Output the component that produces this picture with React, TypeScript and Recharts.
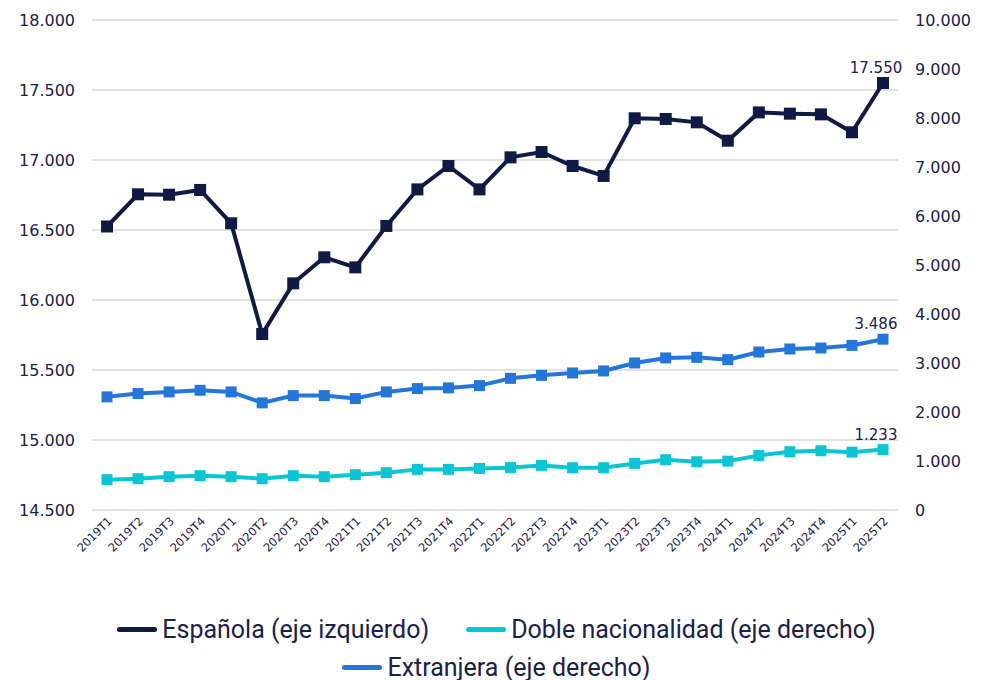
import React from 'react';
import { LineChart, Line, XAxis, YAxis, CartesianGrid, Legend } from 'recharts';

const quarters = [
  '2019T1', '2019T2', '2019T3', '2019T4',
  '2020T1', '2020T2', '2020T3', '2020T4',
  '2021T1', '2021T2', '2021T3', '2021T4',
  '2022T1', '2022T2', '2022T3', '2022T4',
  '2023T1', '2023T2', '2023T3', '2023T4',
  '2024T1', '2024T2', '2024T3', '2024T4',
  '2025T1', '2025T2',
];

const espanola = [
  16525, 16755, 16752, 16786, 16548, 15757, 16119, 16305, 16233, 16529,
  16790, 16957, 16790, 17019, 17057, 16957, 16886, 17298, 17293, 17269,
  17138, 17340, 17331, 17326, 17198, 17550,
];

const extranjera = [
  2309, 2376, 2410, 2443, 2410, 2186, 2335, 2335, 2274, 2410,
  2478, 2492, 2539, 2687, 2748, 2797, 2838, 3001, 3103, 3115,
  3068, 3225, 3286, 3306, 3359, 3486,
];

const doble = [
  619, 639, 680, 700, 680, 639, 700, 680, 721, 761,
  829, 829, 849, 865, 910, 863, 863, 951, 1026, 985,
  998, 1114, 1189, 1209, 1181, 1233,
];

const leftTicks = [14500, 15000, 15500, 16000, 16500, 17000, 17500, 18000];
const rightTicks = [0, 1000, 2000, 3000, 4000, 5000, 6000, 7000, 8000, 9000, 10000];

const data = quarters.map((q, i) => ({
  q,
  espanola: espanola[i],
  extranjera: extranjera[i],
  doble: doble[i],
}));

const NAVY = '#111a44';
const BLUE = '#2477d9';
const CYAN = '#0bc5d4';
const TEXT = '#1b2147';

const fmt = (v: number) => String(v).replace(/\B(?=(\d{3})+(?!\d))/g, '.');

const squareDot = (color: string, size: number) => (props: any) => {
  const { cx, cy, index } = props;
  if (cx == null || cy == null) return <g key={`e-${index}`} />;
  return (
    <rect
      key={`d-${index}`}
      x={cx - size / 2}
      y={cy - size / 2}
      width={size}
      height={size}
      fill={color}
    />
  );
};

const lastLabel = (props: any) => {
  const { x, y, index, value } = props;
  if (index !== quarters.length - 1) return null;
  return (
    <text
      key="last"
      x={x - 7}
      y={y - 10}
      textAnchor="middle"
      fill={TEXT}
      fontSize={15}
      fontFamily="DejaVu Sans"
    >
      {fmt(value)}
    </text>
  );
};

const legendItems = [
  { name: 'Española (eje izquierdo)', color: NAVY },
  { name: 'Doble nacionalidad (eje derecho)', color: CYAN },
  { name: 'Extranjera (eje derecho)', color: BLUE },
];

const LegendRow = ({ items }: { items: typeof legendItems }) => (
  <div style={{ display: 'flex', justifyContent: 'center', gap: 37, height: 38, alignItems: 'center' }}>
    {items.map((it) => (
      <div key={it.name} style={{ display: 'flex', alignItems: 'center' }}>
        <span
          style={{
            display: 'inline-block',
            width: 40,
            height: 5,
            borderRadius: 3,
            background: it.color,
            marginRight: 5,
          }}
        />
        <span style={{ fontFamily: 'Roboto', fontSize: 25, color: TEXT }}>{it.name}</span>
      </div>
    ))}
  </div>
);

const renderLegend = () => (
  <div style={{ width: 993 }}>
    <LegendRow items={legendItems.slice(0, 2)} />
    <LegendRow items={legendItems.slice(2)} />
  </div>
);

export default function App() {
  return (
    <div style={{ position: 'absolute', left: 0, top: 0, background: '#fff' }}>
      <LineChart
        width={993}
        height={680}
        data={data}
        margin={{ top: 20, right: 0, bottom: 0, left: 0 }}
      >
        <CartesianGrid yAxisId="left" vertical={false} stroke="#d9d9d9" strokeWidth={1.5} />
        <XAxis
          dataKey="q"
          interval={0}
          height={94}
          padding={{ left: 15, right: 15 }}
          axisLine={false}
          tickLine={false}
          tickSize={0}
          tickMargin={6}
          angle={-45}
          textAnchor="end"
          tick={{ fill: TEXT, fontSize: 11.5, fontFamily: 'DejaVu Sans' }}
        />
        <YAxis
          yAxisId="left"
          orientation="left"
          width={92}
          domain={[14500, 18000]}
          ticks={leftTicks}
          tickFormatter={fmt}
          axisLine={false}
          tickLine={false}
          tickSize={0}
          tickMargin={17}
          tick={{ fill: TEXT, fontSize: 16, fontFamily: 'DejaVu Sans' }}
        />
        <YAxis
          yAxisId="right"
          orientation="right"
          width={95}
          domain={[0, 10000]}
          ticks={rightTicks}
          tickFormatter={fmt}
          axisLine={false}
          tickLine={false}
          tickSize={0}
          tickMargin={17}
          tick={{ fill: TEXT, fontSize: 16, fontFamily: 'DejaVu Sans', textAnchor: 'start' }}
        />
        <Legend
          verticalAlign="bottom"
          content={renderLegend}
          wrapperStyle={{ height: 76, bottom: -6 }}
        />
        <Line
          yAxisId="left"
          dataKey="espanola"
          name="Española (eje izquierdo)"
          stroke={NAVY}
          strokeWidth={4}
          dot={squareDot(NAVY, 12)}
          activeDot={false}
          label={lastLabel}
          isAnimationActive={false}
        />
        <Line
          yAxisId="right"
          dataKey="doble"
          name="Doble nacionalidad (eje derecho)"
          stroke={CYAN}
          strokeWidth={4}
          dot={squareDot(CYAN, 11)}
          activeDot={false}
          label={lastLabel}
          isAnimationActive={false}
        />
        <Line
          yAxisId="right"
          dataKey="extranjera"
          name="Extranjera (eje derecho)"
          stroke={BLUE}
          strokeWidth={4}
          dot={squareDot(BLUE, 11)}
          activeDot={false}
          label={lastLabel}
          isAnimationActive={false}
        />
      </LineChart>
    </div>
  );
}
